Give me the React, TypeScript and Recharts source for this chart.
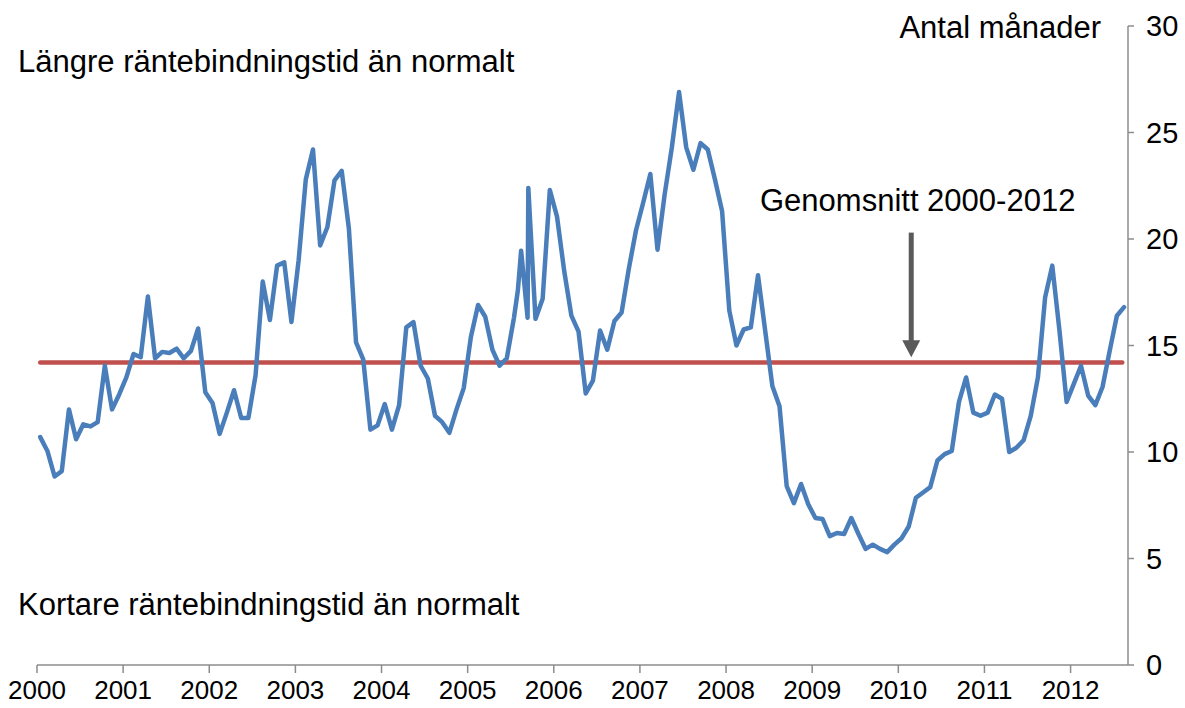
import { Line, LineChart, ReferenceLine, XAxis, YAxis } from "recharts"

// monthly values, Jan 2000 .. Aug 2012
const months = [
  10.7, 10.05, 8.85, 9.1, 12.0, 10.6, 11.3, 11.2, 11.4, 14.05, 12.0, 12.7,
  13.5, 14.6, 14.45, 17.3, 14.4, 14.7, 14.65, 14.85, 14.4, 14.75, 15.8, 12.8,
  12.3, 10.85, 11.85, 12.9, 11.6, 11.6, 13.6, 18.0, 16.2, 18.75, 18.9, 16.1,
  19.0, 22.8, 24.2, 19.7, 20.55, 22.75, 23.2, 20.5, 15.15, 14.35, 11.05, 11.25,
  12.25, 11.05, 12.2, 15.85, 16.1, 14.05, 13.45, 11.7, 11.4, 10.9, 12.0, 13.0,
  15.4, 16.9, 16.35, 14.8, 14.05, 14.4, 16.3, 19.45, 22.4, 16.25, 17.2, 22.3,
  21.05, 18.5, 16.4, 15.65, 12.75, 13.35, 15.7, 14.8, 16.15, 16.55, 18.6, 20.4,
  21.7, 23.05, 19.5, 22.1, 24.3, 26.9, 24.3, 23.25, 24.5, 24.2, 22.8, 21.3,
  16.65, 15.0, 15.75, 15.85, 18.3, 15.7, 13.1, 12.15, 8.4, 7.6, 8.5, 7.55,
  6.9, 6.85, 6.05, 6.2, 6.15, 6.9, 6.15, 5.45, 5.65, 5.45, 5.3, 5.65,
  5.95, 6.5, 7.85, 8.1, 8.35, 9.6, 9.9, 10.05, 12.35, 13.5, 11.85, 11.7,
  11.85, 12.7, 12.5, 10.0, 10.2, 10.55, 11.7, 13.5, 17.25, 18.75, 15.7, 12.35,
  13.2, 14.05, 12.65, 12.2, 13.05, 14.75, 16.4, 16.8,
]

// extra observations in 2005 (month position, value)
const extraPos = [67.0, 68.35]
const extraVal = [17.6, 16.3]

const years = [
  "2000", "2001", "2002", "2003", "2004", "2005", "2006",
  "2007", "2008", "2009", "2010", "2011", "2012",
]
const yTicks = [0, 5, 10, 15, 20, 25, 30]
const average = 14.2
const arrowMonth = 121.8
const arrowFrom = 20.3
const arrowTo = 14.45

const series = [
  ...months.map((v, i) => ({ month: i + 0.45, value: v })),
  ...extraPos.map((p, i) => ({ month: p, value: extraVal[i] })),
].sort((a, b) => a.month - b.month)

const font = "'Liberation Sans', Arial, sans-serif"

function Arrow(props: any) {
  const { x1, y1, y2 } = props
  return (
    <g>
      <line x1={x1} y1={y1} x2={x1} y2={y2 - 14} stroke="#5a5a5a" strokeWidth={5} />
      <polygon
        points={`${x1 - 9},${y2 - 17} ${x1 + 9},${y2 - 17} ${x1},${y2}`}
        fill="#5a5a5a"
      />
    </g>
  )
}

const textStyle = {
  position: "absolute" as const,
  fontFamily: font,
  fontSize: 31,
  lineHeight: "31px",
  color: "#000",
  whiteSpace: "nowrap" as const,
}

export default function App() {
  return (
    <div style={{ position: "relative", width: 1185, height: 708, background: "#fff" }}>
      <style>{`body{margin:0}`}</style>
      <LineChart
        width={1185}
        height={708}
        data={series}
        margin={{ top: 26, right: 0, bottom: 0, left: 37 }}
      >
        <XAxis
          dataKey="month"
          type="number"
          domain={[0, 152]}
          ticks={years.map((_, i) => i * 12)}
          tickFormatter={(v) => years[v / 12]}
          height={43}
          tickSize={8}
          tickMargin={8}
          axisLine={{ stroke: "#8c8c8c", strokeWidth: 1.5 }}
          tickLine={{ stroke: "#8c8c8c", strokeWidth: 1.5 }}
          tick={{ fill: "#000", fontSize: 26, fontFamily: font }}
          interval={0}
        />
        <YAxis
          orientation="right"
          domain={[0, 30]}
          ticks={yTicks}
          width={57}
          tickSize={6}
          tickMargin={12}
          axisLine={{ stroke: "#8c8c8c", strokeWidth: 1.5 }}
          tickLine={{ stroke: "#8c8c8c", strokeWidth: 1.5 }}
          tick={{ fill: "#000", fontSize: 29, fontFamily: font }}
          interval={0}
        />
        <ReferenceLine
          segment={[
            { x: 0.45, y: average },
            { x: 151.2, y: average },
          ]}
          stroke="#c0504d"
          strokeWidth={4.5}
          strokeLinecap="round"
        />
        <ReferenceLine
          segment={[
            { x: arrowMonth, y: arrowFrom },
            { x: arrowMonth, y: arrowTo },
          ]}
          shape={Arrow}
        />
        <Line
          type="linear"
          dataKey="value"
          stroke="#4a7ebb"
          strokeWidth={4.5}
          strokeLinejoin="round"
          strokeLinecap="round"
          dot={false}
          isAnimationActive={false}
        />
      </LineChart>
      <div style={{ ...textStyle, right: 1185 - 1101, top: 12 }}>Antal månader</div>
      <div style={{ ...textStyle, left: 18, top: 46 }}>Längre räntebindningstid än normalt</div>
      <div style={{ ...textStyle, left: 18, top: 589 }}>Kortare räntebindningstid än normalt</div>
      <div style={{ ...textStyle, left: 760, top: 185 }}>Genomsnitt 2000-2012</div>
    </div>
  )
}
